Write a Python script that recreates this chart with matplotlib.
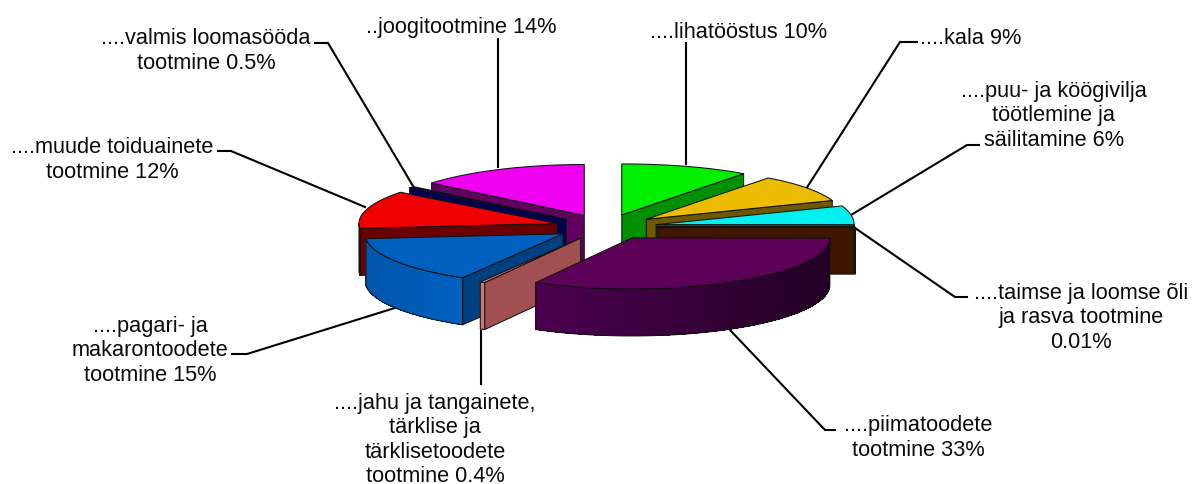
import numpy as np
import matplotlib
matplotlib.use("Agg")
import matplotlib.pyplot as plt
from matplotlib.patches import Polygon
from matplotlib.colors import to_rgb

names = ["lihatööstus", "kala", "puu", "oli", "piim", "jahu", "pagari", "muude", "loomasööt", "joogi"]
values = [10, 9, 6, 0.01, 33, 0.4, 15, 12, 0.5, 14]
top_colors = ["#00F000", "#ECBC00", "#00F0F0", "#7A3000", "#5C0058", "#E87070", "#0060C0", "#F00000", "#000060", "#F000F0"]
side_colors = ["#009000", "#6E5800", "#007070", "#3F1700", "#4A004C", "#A05050", "#004080", "#6A0000", "#000050", "#600060"]
wall_dark = ["#009000", "#6E5800", "#007070", "#3F1700", "#220024", "#E87070", "#0060C0", "#500000", "#000050", "#600060"]
wall_light = ["#009000", "#6E5800", "#007070", "#3F1700", "#4C0050", "#E87070", "#0056AC", "#500000", "#000050", "#600060"]
draw_order = [9, 0, 8, 7, 1, 2, 3, 6, 5, 4]

labels = [
    "....lihatööstus 10%", "....kala 9%",
    "....puu- ja köögivilja\ntöötlemine ja\nsäilitamine 6%",
    "....taimse ja loomse õli\nja rasva tootmine\n0.01%",
    "....piimatoodete\ntootmine 33%",
    "....jahu ja tangainete,\ntärklise ja\ntärklisetoodete\ntootmine 0.4%",
    "....pagari- ja\nmakarontoodete\ntootmine 15%",
    "....muude toiduainete\ntootmine 12%",
    "....valmis loomasööda\ntootmine 0.5%",
    "..joogitootmine 14%",
]
label_xy = [(739, 33), (971, 38), (1054, 116), (1081, 318), (918, 438),
            (435, 440), (150, 351), (112, 160), (206, 51), (461, 27)]
leaders = [
    [(686, 44), (686, 165)],
    [(917, 43), (900, 43), (806, 190)],
    [(979, 146), (967, 146), (851, 216)],
    [(967, 298), (955, 298), (855, 229)],
    [(835, 431), (825, 431), (730, 331)],
    [(481, 385), (481, 330)],
    [(232, 355), (247, 355), (398, 308)],
    [(218, 152), (231, 152), (365, 208)],
    [(315, 44), (328, 44), (413, 187)],
    [(498, 40), (498, 168)],
]

CX, CY = 606, 228
RX_R, RX_R_EXTRA, RX_L, RY = 198, 14, 198, 51
EXPLODE = 51
DEPTH = 47

W, H = 1192, 485
fig = plt.figure(figsize=(W / 100, H / 100), dpi=100)
ax = fig.add_axes([0, 0, 1, 1])
ax.set_xlim(0, W)
ax.set_ylim(H, 0)
ax.axis("off")
plt.rcParams["font.family"] = ["Liberation Sans", "DejaVu Sans"]

total = sum(values)
edges = 360 * np.concatenate([[0], np.cumsum(values)]) / total


def pt(a, c):
    r = np.radians(a)
    s, co = np.sin(r), np.cos(r)
    rx = RX_R + RX_R_EXTRA * co ** 2 if s >= 0 and co > 0 else (RX_R if s >= 0 else RX_L)
    return np.array([c[0] + rx * s, c[1] - RY * co])


def mix(c1, c2, t):
    a, b = np.array(to_rgb(c1)), np.array(to_rgb(c2))
    return tuple(a + (b - a) * t)


LW = 0.75
for idx in draw_order:
    a0, a1 = edges[idx], edges[idx + 1]
    mid = np.radians((a0 + a1) / 2)
    c = np.array([CX + EXPLODE * np.sin(mid), CY - EXPLODE * RY / 205 * np.cos(mid)])
    z = 2 + draw_order.index(idx)
    dn = np.array([0, DEPTH])

    def face(p, color):
        ax.add_patch(Polygon(p, closed=True, fc=color, ec="#111111", lw=LW, zorder=z, joinstyle="round"))

    # cut faces
    if np.sin(np.radians(a1)) > 0:
        e = pt(a1, c)
        face([c, e, e + dn, c + dn], side_colors[idx])
    if np.sin(np.radians(a0)) < 0:
        e = pt(a0, c)
        face([c, e, e + dn, c + dn], side_colors[idx])

    # outer wall, shaded in narrow strips without outlines
    w0, w1 = max(a0, 90), min(a1, 270)
    if w1 > w0:
        arc = np.linspace(w0, w1, max(int((w1 - w0) * 2), 2) + 1)
        pts = np.array([pt(a, c) for a in arc])
        xmin, xmax = pts[:, 0].min(), pts[:, 0].max()
        for i in range(len(arc) - 1):
            t = (pts[i, 0] - xmin) / max(xmax - xmin, 1)
            col = mix(wall_light[idx], wall_dark[idx], t)
            ax.add_patch(Polygon([pts[i], pts[i + 1], pts[i + 1] + dn, pts[i] + dn], closed=True,
                                 fc=col, ec="none", lw=0, zorder=z, antialiased=False))
        outline = np.vstack([pts, (pts + dn)[::-1]])
        ax.add_patch(Polygon(outline, closed=True, fill=False, ec="#111111", lw=LW, zorder=z))

    # top
    arc = np.linspace(a0, a1, max(int(a1 - a0), 2) + 1)
    face(np.vstack([c, [pt(a, c) for a in arc]]), top_colors[idx])

for seg in leaders:
    xs, ys = zip(*seg)
    ax.plot(xs, ys, color="black", lw=1.5, zorder=1, solid_joinstyle="miter")

for txt, (x, y) in zip(labels, label_xy):
    ax.text(x, y, txt, ha="center", va="center", fontsize=15.7, color="#0A0A0A",
            linespacing=1.19, zorder=20, family=["Liberation Sans", "DejaVu Sans"])

fig.savefig("out.png", dpi=100, facecolor="white")
